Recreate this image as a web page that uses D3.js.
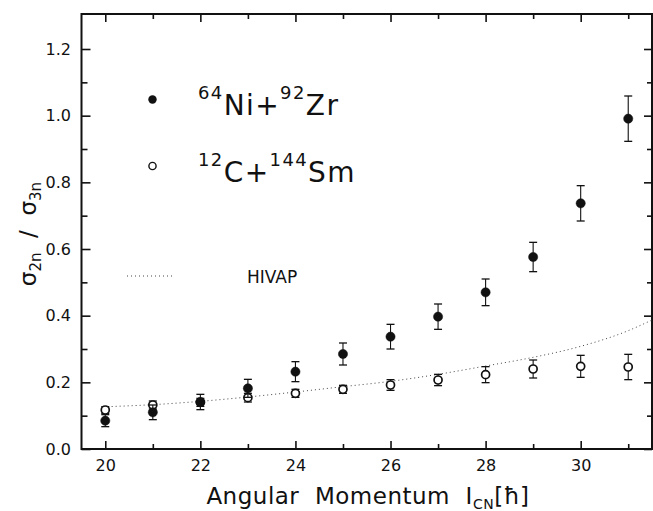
<!DOCTYPE html>
<html><head><meta charset="utf-8">
<script src="https://cdn.jsdelivr.net/npm/d3@7"></script>
<style>
html,body{margin:0;padding:0;background:#fff;}
svg text{font-family:"DejaVu Sans","Liberation Sans",sans-serif;fill:#111;}
</style></head>
<body>
<svg id="chart" width="653" height="511"></svg>
<script>
// ---- data ----
const angularMomentum = [20,21,22,23,24,25,26,27,28,29,30,31];
const niZrRatio = [0.085,0.110,0.141,0.182,0.232,0.285,0.337,0.397,0.470,0.576,0.737,0.991];
const niZrError = [0.018,0.022,0.023,0.027,0.030,0.033,0.037,0.038,0.040,0.044,0.053,0.068];
const cSmRatio  = [0.117,0.132,0.140,0.154,0.167,0.179,0.192,0.207,0.223,0.240,0.248,0.246];
const cSmError  = [0.010,0.012,0.012,0.013,0.012,0.012,0.016,0.017,0.024,0.027,0.033,0.038];
const hivapL = [20.05,21,22,23,24,25,26,27,28,29,30,31,31.5];
const hivapRatio = [0.127,0.133,0.143,0.156,0.171,0.187,0.203,0.224,0.249,0.275,0.308,0.355,0.387];
const xMajorTicks = [20,22,24,26,28,30];
const xMinorTicks = [21,23,25,27,29,31];
const yMajorTicks = [0,0.2,0.4,0.6,0.8,1.0,1.2];
const yMinorTicks = [0.1,0.3,0.5,0.7,0.9,1.1];

// ---- layout ----
const svg = d3.select("#chart");
const L = 81.5, R = 652, T = 14, B = 449;
const x = d3.scaleLinear().domain([19.5,31.5]).range([L,R]);
const y = d3.scaleLinear().domain([0,1.305]).range([B,T]);
const ink = "#111";
const NB = "\u00A0";

function styleAxis(g){
  g.select(".domain").remove();
  g.selectAll(".tick line").attr("stroke",ink).attr("stroke-width",1.6);
  g.selectAll(".tick text").attr("font-size",16).attr("fill",ink)
    .attr("font-family","'Liberation Sans','DejaVu Sans',sans-serif");
}
// bottom
svg.append("g").attr("transform",`translate(0,${B})`)
  .call(d3.axisBottom(x).tickValues(xMajorTicks).tickSize(-8).tickPadding(11).tickFormat(d3.format("d"))).call(styleAxis);
svg.append("g").attr("transform",`translate(0,${B})`)
  .call(d3.axisBottom(x).tickValues(xMinorTicks).tickSize(-5).tickFormat("")).call(styleAxis);
// top
svg.append("g").attr("transform",`translate(0,${T})`)
  .call(d3.axisTop(x).tickValues(xMajorTicks).tickSize(-8).tickFormat("")).call(styleAxis);
svg.append("g").attr("transform",`translate(0,${T})`)
  .call(d3.axisTop(x).tickValues(xMinorTicks).tickSize(-5).tickFormat("")).call(styleAxis);
// left
svg.append("g").attr("transform",`translate(${L},0)`)
  .call(d3.axisLeft(y).tickValues(yMajorTicks).tickSize(-9).tickPadding(10.5).tickFormat(d3.format(".1f"))).call(styleAxis);
svg.append("g").attr("transform",`translate(${L},0)`)
  .call(d3.axisLeft(y).tickValues(yMinorTicks).tickSize(-6).tickFormat("")).call(styleAxis);
// right
svg.append("g").attr("transform",`translate(${R},0)`)
  .call(d3.axisRight(y).tickValues(yMajorTicks).tickSize(-8).tickFormat("")).call(styleAxis);
svg.append("g").attr("transform",`translate(${R},0)`)
  .call(d3.axisRight(y).tickValues(yMinorTicks).tickSize(-5).tickFormat("")).call(styleAxis);

// frame
svg.append("rect").attr("x",L).attr("y",T).attr("width",R-L).attr("height",B-T)
  .attr("fill","none").attr("stroke",ink).attr("stroke-width",2);

// HIVAP dotted curve
const hiv = hivapL.map((d,i)=>[d,hivapRatio[i]]);
svg.append("path").datum(hiv)
  .attr("d",d3.line().x(d=>x(d[0])).y(d=>y(d[1])).curve(d3.curveMonotoneX))
  .attr("fill","none").attr("stroke","#444").attr("stroke-width",1).attr("stroke-dasharray","1,3");

// error bars + markers
function series(vals, errs, filled){
  const g = svg.append("g");
  const data = angularMomentum.map((d,i)=>({l:d,v:vals[i],e:errs[i]}));
  const eb = g.selectAll(".eb").data(data).enter().append("g");
  eb.append("line").attr("x1",d=>x(d.l)).attr("x2",d=>x(d.l))
    .attr("y1",d=>y(d.v+d.e)).attr("y2",d=>y(d.v-d.e)).attr("stroke",ink).attr("stroke-width",1.1);
  eb.append("line").attr("x1",d=>x(d.l)-4).attr("x2",d=>x(d.l)+4)
    .attr("y1",d=>y(d.v+d.e)).attr("y2",d=>y(d.v+d.e)).attr("stroke",ink).attr("stroke-width",1.3);
  eb.append("line").attr("x1",d=>x(d.l)-4).attr("x2",d=>x(d.l)+4)
    .attr("y1",d=>y(d.v-d.e)).attr("y2",d=>y(d.v-d.e)).attr("stroke",ink).attr("stroke-width",1.3);
  g.selectAll(".pt").data(data).enter().append("circle")
    .attr("cx",d=>x(d.l)).attr("cy",d=>y(d.v))
    .attr("r",filled?4.6:4.0)
    .attr("fill",filled?ink:"#fff").attr("stroke",ink).attr("stroke-width",filled?0.5:1.7);
}
series(cSmRatio, cSmError, false);
series(niZrRatio, niZrError, true);

// legend
svg.append("circle").attr("cx",152.5).attr("cy",99.5).attr("r",4.2).attr("fill",ink);
svg.append("circle").attr("cx",152.5).attr("cy",166).attr("r",3.6).attr("fill","#fff").attr("stroke",ink).attr("stroke-width",1.4);
function legendText(yb, parts){
  const t = svg.append("text").attr("x",198).attr("y",yb).attr("font-size",28).attr("letter-spacing","1.4px");
  parts.forEach(p=>{
    if(p.sup){
      t.append("tspan").attr("font-size",18).attr("dy",-16).text(p.t);
    } else {
      t.append("tspan").attr("dy",p.after?16:0).text(p.t);
    }
  });
}
legendText(115,[{t:"64",sup:true},{t:"Ni+",after:true},{t:"92",sup:true},{t:"Zr",after:true}]);
legendText(181.5,[{t:"12",sup:true},{t:"C+",after:true},{t:"144",sup:true},{t:"Sm",after:true}]);
svg.append("line").attr("x1",127).attr("x2",173).attr("y1",276).attr("y2",276)
  .attr("stroke","#444").attr("stroke-width",1).attr("stroke-dasharray","1,3");
svg.append("text").attr("x",247).attr("y",282.5).attr("font-size",17).text("HIVAP");

// x label
const xl = svg.append("text").attr("x",368).attr("y",504).attr("text-anchor","middle").attr("font-size",23).attr("letter-spacing","0.5px");
xl.append("tspan").text("Angular"+NB+NB+"Momentum"+NB+NB+"I");
xl.append("tspan").attr("font-size",14).attr("dy",5).text("CN");
xl.append("tspan").attr("dy",-5).text("[ħ]");

// y label
const yl = svg.append("text").attr("transform","translate(36,234) rotate(-90)").attr("text-anchor","middle").attr("font-size",23);
yl.append("tspan").text("σ");
yl.append("tspan").attr("font-size",15).attr("dy",5).text("2n");
yl.append("tspan").attr("dy",-5).text(NB+NB+"/"+NB+NB+"σ");
yl.append("tspan").attr("font-size",15).attr("dy",5).text("3n");
</script>
</body></html>
